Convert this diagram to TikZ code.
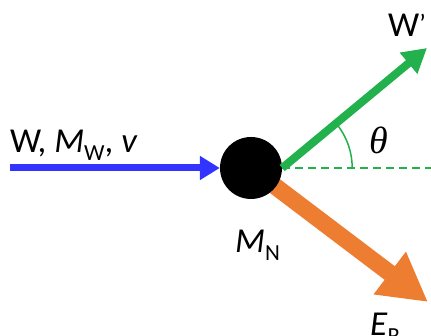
\documentclass[tikz,border=0pt]{standalone}
\usepackage{fontspec}
\setmainfont{Carlito}
\newfontfamily\thfont{Liberation Serif}
\usetikzlibrary{arrows.meta}
\definecolor{myblue}{RGB}{51,51,255}
\definecolor{mygreen}{RGB}{34,177,76}
\definecolor{myorange}{RGB}{237,125,49}
\newcommand{\mysub}[1]{\raisebox{-8pt}{\fontsize{23}{23}\selectfont #1}}
\tikzset{
  lbl/.style={inner sep=0pt, font=\fontsize{35}{40}\selectfont},
  ball/.style={circle, fill=black, minimum size=62pt, inner sep=0pt},
  bluearrow/.style={draw=myblue, line width=7pt, -{Triangle[length=20pt,width=23pt]}},
  greenarrow/.style={draw=mygreen, line width=8pt, -{Triangle[length=24pt,width=26pt]}},
  orangearrow/.style={draw=myorange, line width=17pt, -{Triangle[length=48pt,width=50pt]}},
  refline/.style={draw=mygreen, line width=2.2pt, dash pattern=on 8pt off 5pt},
  anglearc/.style={draw=mygreen, line width=1.5pt}
}
\begin{document}
\begin{tikzpicture}[x=1pt,y=1pt]
\useasboundingbox (0,0) rectangle (431,336);
\clip (0,0) rectangle (431,336);
% title fragment
\node[inner sep=0pt, anchor=base, font=\fontsize{36}{42}\selectfont\bfseries] (title) at (261,359) {g};
\coordinate (c) at (251,168);
\coordinate (etip) at (428,34);
\coordinate (wtip) at (427,288);
\coordinate (bstart) at (10,168);
\coordinate (dend) at (431,168);
\draw[orangearrow] (c) -- (etip);
\node[ball] (N) at (c) {};
\draw[refline] (N.east) -- (dend);
\draw[anglearc] ([xshift=70pt]N.east) arc[start angle=0, end angle=39.6, radius=70pt];
\draw[greenarrow] (N.east) -- (wtip);
\draw[bluearrow] (bstart) -- (N.west);
\node[lbl, anchor=base west] (lw) at (10,183) {W, \textit{M}\mysub{W}, \textit{v}};
\node[lbl, anchor=base west] (lmn) at (235,83) {\textit{M}\mysub{N}};
\node[lbl, anchor=base west] (lwp) at (388,299) {W\raisebox{4pt}{\fontsize{26}{26}\selectfont\textquoteright}};
\node[lbl, anchor=base west] (ler) at (370,0) {\textit{E}\mysub{R}};
\node[inner sep=0pt, font=\fontsize{38}{44}\selectfont\thfont\itshape] (th) at (379,196) {θ};
\end{tikzpicture}
\end{document}
